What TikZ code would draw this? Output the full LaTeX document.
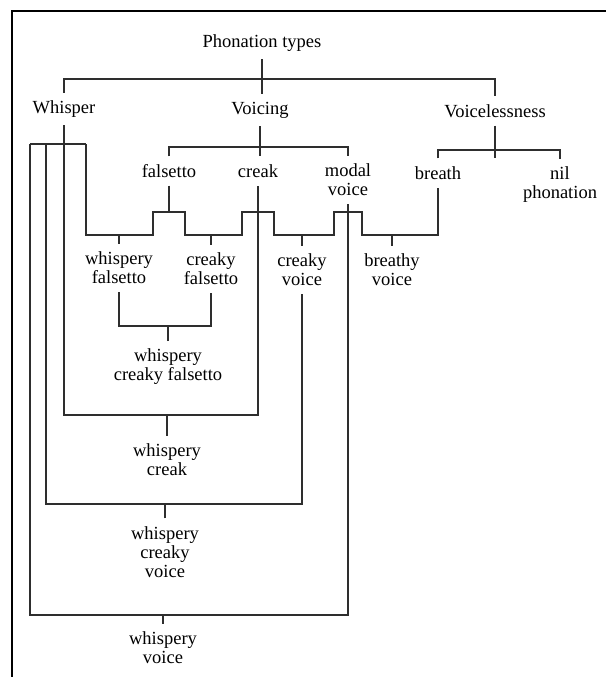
\documentclass[tikz,border=0pt]{standalone}
\usepackage{fontspec}
\setmainfont{Liberation Serif}
\begin{document}
\begin{tikzpicture}[x=1pt,y=-1pt,
  lbl/.style={font=\fontsize{18.5}{19}\selectfont, align=center, inner sep=0pt, outer sep=8pt, text=black},
  ln/.style={draw=black!82, line width=1.4pt},
  frame/.style={draw=black, line width=2pt},
]
\useasboundingbox (0,0) rectangle (606,677);
\draw[frame] (12,677) -- (12,11) -- (606,11);

% text nodes
\node[lbl] (pt) at (262,43) {Phonation types};
\node[lbl] (wh) at (64,109) {Whisper};
\node[lbl] (vo) at (260,110) {Voicing};
\node[lbl] (vl) at (495,111) {Voicelessness};
\node[lbl] (fa) at (169,171) {falsetto};
\node[lbl] (cr) at (258,171) {creak};
\node[lbl] (mv) at (348,180) {modal\\voice};
\node[lbl] (br) at (438,173) {breath};
\node[lbl] (nil) at (560,185) {nil\\phonation};
\node[lbl] (wf) at (119,268) {whispery\\falsetto};
\node[lbl] (cf) at (211,269) {creaky\\falsetto};
\node[lbl] (cv) at (302,270) {creaky\\voice};
\node[lbl] (bv) at (392,270) {breathy\\voice};
\node[lbl] (wcf) at (168,367) {whispery\\creaky falsetto};
\node[lbl] (wc) at (167,460) {whispery\\creak};
\node[lbl] (wcv) at (165,552) {whispery\\creaky\\voice};
\node[lbl] (wv) at (163,648) {whispery\\voice};

% junction levels
\coordinate (t0) at (0,79);
\coordinate (v0) at (0,147);
\coordinate (u0) at (0,150);
\coordinate (jt) at (0,212);
\coordinate (jb) at (0,235);
\coordinate (wcfb) at (0,326);
\coordinate (wcb) at (0,415);
\coordinate (wcvb) at (0,504);
\coordinate (wvb) at (0,615);
\coordinate (wA) at (30,144);
\coordinate (wB) at (46,144);
\coordinate (wD) at (86,144);

% top level
\draw[ln] (pt.south) -- (pt.south |- vo.north);
\draw[ln] (wh.north) -- (wh.north |- t0) -- (vl.north |- t0) -- (vl.north);

% voicing
\draw[ln] (vo.south) -- (vo.south |- cr.north);
\draw[ln] (fa.north) -- (fa.north |- v0) -- (mv.north |- v0) -- (mv.north);

% voicelessness
\draw[ln] (vl.south) -- (vl.south |- br.north);
\draw[ln] (br.north) -- (br.north |- u0) -- (nil.north |- u0) -- (nil.north);

% whisper bar
\draw[ln] (wA) -- (wD);

% whispery creak
\draw[ln] (wh.south) -- (wh.south |- wcb) -| (cr.south);
\draw[ln] (wc.north) -- (wc.north |- wcb);

% whispery creaky voice
\draw[ln] (wB) -- (wB |- wcvb) -| (cv.south);
\draw[ln] (wcv.north) -- (wcv.north |- wcvb);

% whispery voice
\draw[ln] (wA) -- (wA |- wvb) -| (mv.south);
\draw[ln] (wv.north) -- (wv.north |- wvb);

% stepped line: whisper - falsetto - creak - modal voice - breath
\draw[ln] (wD)
  |- ([xshift=-16pt]fa.south |- jb)
  |- ([xshift=16pt]fa.south |- jt)
  |- ([xshift=-16pt]cr.south |- jb)
  |- ([xshift=16pt]cr.south |- jt)
  |- ([xshift=-14pt]mv.south |- jb)
  |- ([xshift=14pt]mv.south |- jt)
  |- (br.south |- jb) -- (br.south);
\draw[ln] (fa.south) -- (fa.south |- jt);
\draw[ln] (wf.north) -- (wf.north |- jb);
\draw[ln] (cf.north) -- (cf.north |- jb);
\draw[ln] (cv.north) -- (cv.north |- jb);
\draw[ln] (bv.north) -- (bv.north |- jb);

% whispery creaky falsetto
\draw[ln] (wf.south) -- (wf.south |- wcfb) -| (cf.south);
\draw[ln] (wcf.north) -- (wcf.north |- wcfb);
\end{tikzpicture}
\end{document}
